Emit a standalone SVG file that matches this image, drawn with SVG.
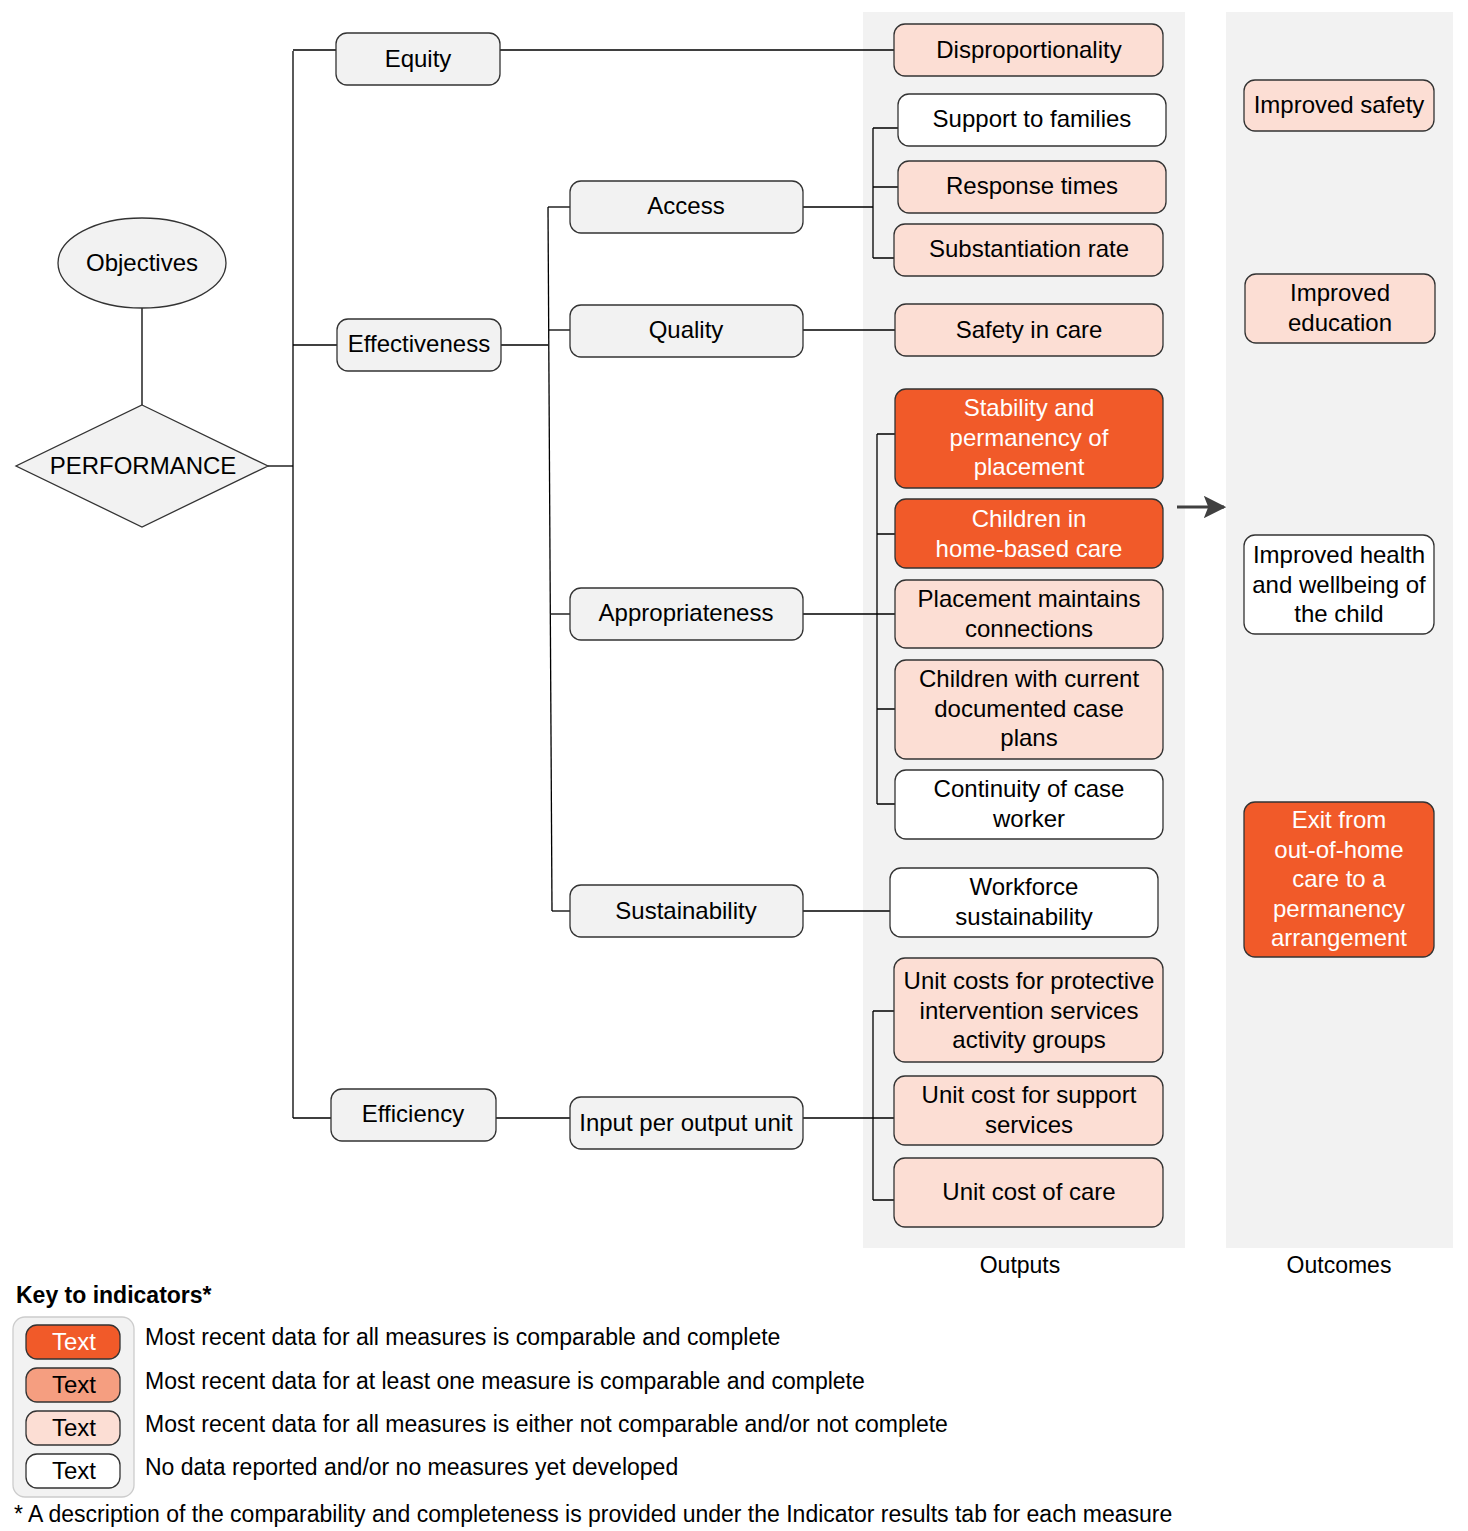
<svg xmlns="http://www.w3.org/2000/svg" width="1468" height="1531" viewBox="0 0 1468 1531">
<defs>
<style>
text{font-family:"Liberation Sans",Arial,sans-serif;font-size:24px;fill:#000;text-anchor:middle}
.n rect{stroke:#333;stroke-width:1.3}
.g{fill:#f2f2f2}
.o{fill:#f15a29}
.p{fill:#fcded4}
.s{fill:#f59e80}
.w{fill:#fff}
.wt{fill:#fff}
.c{stroke:#000;stroke-width:1.3;fill:none}
.lg{font-size:23px;text-anchor:start}
</style>
<marker id="ah" viewBox="0 0 10 10" refX="9" refY="5" markerWidth="7.5" markerHeight="7.5" orient="auto" markerUnits="strokeWidth">
<path d="M0,0 L10,5 L0,10 L2,5 Z" fill="#404040"/>
</marker>
</defs>
<rect width="1468" height="1531" fill="#fff"/>
<rect x="863" y="12" width="322" height="1236" fill="#f2f2f2"/>
<rect x="1226" y="12" width="227" height="1236" fill="#f2f2f2"/>
<text x="1020" y="1273" style="font-size:23px">Outputs</text>
<text x="1339" y="1273" style="font-size:23px">Outcomes</text>

<g id="connectors" class="c">
<path d="M142,308 V405"/>
<path d="M268,466 H293"/>
<path d="M293,51 V1118"/>
<path d="M293,50 H336 M500,50 H894"/>
<path d="M293,345 H337"/>
<path d="M501,345 H548"/>
<path d="M548,207 L552,911"/>
<path d="M548,207 H570"/>
<path d="M549,330 H570"/>
<path d="M551,614 H570"/>
<path d="M552,911 H570"/>
<path d="M803,207 H873 M873,128 V258 M873,128 H898 M873,187 H898 M873,258 H894"/>
<path d="M803,330 H895"/>
<path d="M803,614 H895 M877,434 V804 M877,434 H895 M877,534 H895 M877,709 H895 M877,804 H895"/>
<path d="M803,911 H890"/>
<path d="M293,1118 H331 M496,1118 H570"/>
<path d="M803,1118 H894 M873,1011 V1200 M873,1011 H894 M873,1200 H894"/>
<path d="M1177,507 H1224" stroke="#404040" stroke-width="3" marker-end="url(#ah)"/>
</g>

<g id="objectives" class="n"><ellipse cx="142" cy="263" rx="84" ry="45" fill="#f2f2f2" stroke="#333" stroke-width="1.3"/><text x="142" y="271">Objectives</text></g>
<g id="performance" class="n"><polygon points="142,405 268,466 142,527 16,466" fill="#f2f2f2" stroke="#333" stroke-width="1.3"/><text x="143" y="474">PERFORMANCE</text></g>

<g id="equity" class="n"><rect class="g" x="336" y="33" width="164" height="52" rx="11"/><text x="418" y="67">Equity</text></g>
<g id="effectiveness" class="n"><rect class="g" x="337" y="319" width="164" height="52" rx="11"/><text x="419" y="352">Effectiveness</text></g>
<g id="efficiency" class="n"><rect class="g" x="331" y="1089" width="165" height="52" rx="11"/><text x="413" y="1122">Efficiency</text></g>

<g id="access" class="n"><rect class="g" x="570" y="181" width="233" height="52" rx="11"/><text x="686" y="214">Access</text></g>
<g id="quality" class="n"><rect class="g" x="570" y="305" width="233" height="52" rx="11"/><text x="686" y="338">Quality</text></g>
<g id="appropriateness" class="n"><rect class="g" x="570" y="588" width="233" height="52" rx="11"/><text x="686" y="621">Appropriateness</text></g>
<g id="sustainability" class="n"><rect class="g" x="570" y="885" width="233" height="52" rx="11"/><text x="686" y="919">Sustainability</text></g>
<g id="input" class="n"><rect class="g" x="570" y="1097" width="233" height="52" rx="11"/><text x="686" y="1131">Input per output unit</text></g>

<g id="disproportionality" class="n"><rect class="p" x="894" y="24" width="269" height="52" rx="11"/><text x="1029" y="58">Disproportionality</text></g>
<g id="support" class="n"><rect class="w" x="898" y="94" width="268" height="52" rx="11"/><text x="1032" y="127">Support to families</text></g>
<g id="response" class="n"><rect class="p" x="898" y="161" width="268" height="52" rx="11"/><text x="1032" y="194">Response times</text></g>
<g id="substantiation" class="n"><rect class="p" x="894" y="224" width="269" height="52" rx="11"/><text x="1029" y="257">Substantiation rate</text></g>
<g id="safety" class="n"><rect class="p" x="895" y="304" width="268" height="52" rx="11"/><text x="1029" y="338">Safety in care</text></g>
<g id="stability" class="n"><rect class="o" x="895" y="389" width="268" height="99" rx="11"/><text class="wt" x="1029" y="416">Stability and<tspan x="1029" dy="29.5">permanency of</tspan><tspan x="1029" dy="29.5">placement</tspan></text></g>
<g id="homebased" class="n"><rect class="o" x="895" y="499" width="268" height="69" rx="11"/><text class="wt" x="1029" y="527">Children in<tspan x="1029" dy="29.5">home-based care</tspan></text></g>
<g id="placement" class="n"><rect class="p" x="895" y="580" width="268" height="68" rx="11"/><text x="1029" y="607">Placement maintains<tspan x="1029" dy="29.5">connections</tspan></text></g>
<g id="caseplans" class="n"><rect class="p" x="895" y="660" width="268" height="99" rx="11"/><text x="1029" y="687">Children with current<tspan x="1029" dy="29.5">documented case</tspan><tspan x="1029" dy="29.5">plans</tspan></text></g>
<g id="continuity" class="n"><rect class="w" x="895" y="770" width="268" height="69" rx="11"/><text x="1029" y="797">Continuity of case<tspan x="1029" dy="29.5">worker</tspan></text></g>
<g id="workforce" class="n"><rect class="w" x="890" y="868" width="268" height="69" rx="11"/><text x="1024" y="895">Workforce<tspan x="1024" dy="29.5">sustainability</tspan></text></g>
<g id="unitcosts" class="n"><rect class="p" x="894" y="958" width="269" height="104" rx="11"/><text x="1029" y="989">Unit costs for protective<tspan x="1029" dy="29.5">intervention services</tspan><tspan x="1029" dy="29.5">activity groups</tspan></text></g>
<g id="unitsupport" class="n"><rect class="p" x="894" y="1076" width="269" height="69" rx="11"/><text x="1029" y="1103">Unit cost for support<tspan x="1029" dy="29.5">services</tspan></text></g>
<g id="unitcare" class="n"><rect class="p" x="894" y="1158" width="269" height="69" rx="11"/><text x="1029" y="1200">Unit cost of care</text></g>

<g id="impsafety" class="n"><rect class="p" x="1244" y="80" width="190" height="51" rx="11"/><text x="1339" y="113">Improved safety</text></g>
<g id="impeducation" class="n"><rect class="p" x="1245" y="274" width="190" height="69" rx="11"/><text x="1340" y="301">Improved<tspan x="1340" dy="29.5">education</tspan></text></g>
<g id="imphealth" class="n"><rect class="w" x="1244" y="535" width="190" height="99" rx="11"/><text x="1339" y="563">Improved health<tspan x="1339" dy="29.5">and wellbeing of</tspan><tspan x="1339" dy="29.5">the child</tspan></text></g>
<g id="exit" class="n"><rect class="o" x="1244" y="802" width="190" height="155" rx="11"/><text class="wt" x="1339" y="828">Exit from<tspan x="1339" dy="29.5">out-of-home</tspan><tspan x="1339" dy="29.5">care to a</tspan><tspan x="1339" dy="29.5">permanency</tspan><tspan x="1339" dy="29.5">arrangement</tspan></text></g>

<g id="key">
<text x="16" y="1303" style="font-size:23px;font-weight:bold;text-anchor:start">Key to indicators*</text>
<rect x="13" y="1317" width="121" height="180" rx="12" fill="#f2f2f2" stroke="#ccc" stroke-width="1.3"/>
<g class="n"><rect class="o" x="26" y="1325" width="94" height="34" rx="11"/><text class="wt" x="74" y="1350">Text</text></g>
<g class="n"><rect class="s" x="26" y="1368" width="94" height="34" rx="11"/><text x="74" y="1393">Text</text></g>
<g class="n"><rect class="p" x="26" y="1411" width="94" height="34" rx="11"/><text x="74" y="1436">Text</text></g>
<g class="n"><rect class="w" x="26" y="1454" width="94" height="34" rx="11"/><text x="74" y="1479">Text</text></g>
<text class="lg" x="145" y="1345">Most recent data for all measures is comparable and complete</text>
<text class="lg" x="145" y="1389">Most recent data for at least one measure is comparable and complete</text>
<text class="lg" x="145" y="1432">Most recent data for all measures is either not comparable and/or not complete</text>
<text class="lg" x="145" y="1475">No data reported and/or no measures yet developed</text>
<text class="lg" x="14" y="1522">* A description of the comparability and completeness is provided under the Indicator results tab for each measure</text>
</g>
</svg>
